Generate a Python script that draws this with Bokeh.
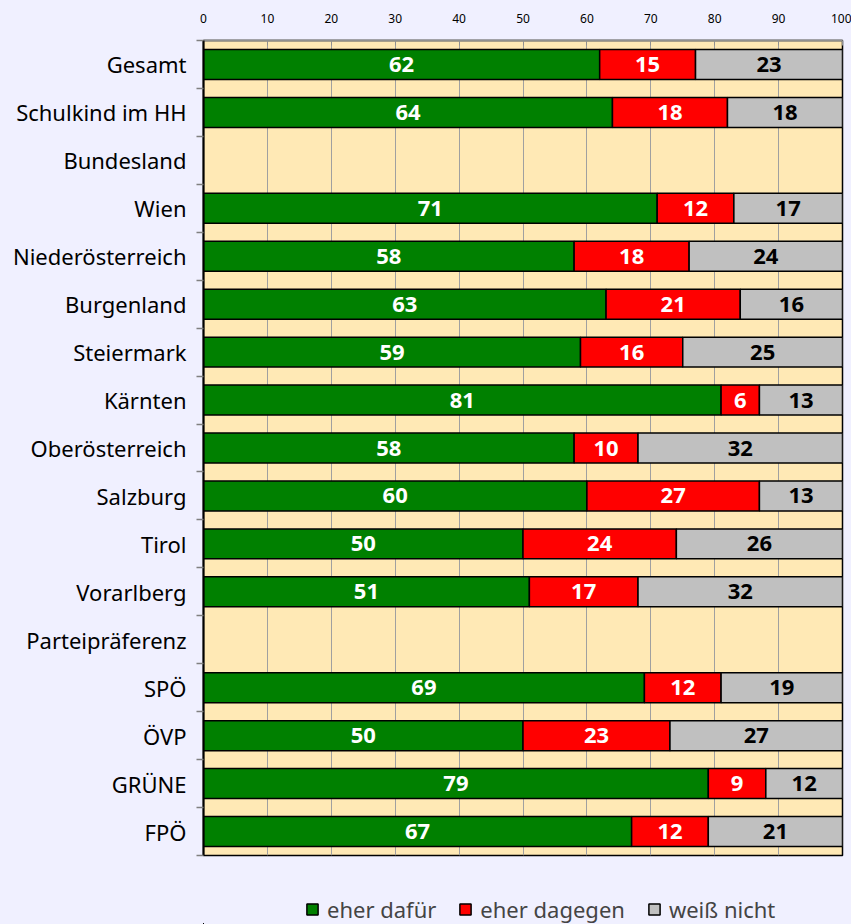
from bokeh.plotting import figure
from bokeh.layouts import column
from bokeh.models import ColumnDataSource, FixedTicker, Range1d, Legend, LegendItem
from bokeh.core.properties import value
from bokeh.embed import file_html
from bokeh.resources import INLINE

categories = ["Gesamt", "Schulkind im HH", "Bundesland", "Wien", "Niederösterreich",
              "Burgenland", "Steiermark", "Kärnten", "Oberösterreich", "Salzburg",
              "Tirol", "Vorarlberg", "Parteipräferenz", "SPÖ", "ÖVP", "GRÜNE", "FPÖ"]
eher_dafuer = [62, 64, None, 71, 58, 63, 59, 81, 58, 60, 50, 51, None, 69, 50, 79, 67]
eher_dagegen = [15, 18, None, 12, 18, 21, 16, 6, 10, 27, 24, 17, None, 12, 23, 9, 12]
weiss_nicht = [23, 18, None, 17, 24, 16, 25, 13, 32, 13, 26, 32, None, 19, 27, 12, 21]
series_names = ["eher dafür", "eher dagegen", "weiß nicht"]
x_ticks = [0, 10, 20, 30, 40, 50, 60, 70, 80, 90, 100]

FONT = "Noto Sans"
BG = "#F0F0FF"
n = len(categories)
rows = [i for i in range(n) if eher_dafuer[i] is not None]

data = dict(y=rows)
acc = [0.0] * len(rows)
for k, ser in enumerate([eher_dafuer, eher_dagegen, weiss_nicht]):
    vals = [ser[i] for i in rows]
    data[f"l{k}"] = list(acc)
    data[f"r{k}"] = [a + v for a, v in zip(acc, vals)]
    data[f"c{k}"] = [a + v / 2 for a, v in zip(acc, vals)]
    data[f"t{k}"] = [str(v) for v in vals]
    acc = data[f"r{k}"]
src = ColumnDataSource(data)

p = figure(frame_width=639, frame_height=815,
           x_range=Range1d(0, 100), y_range=Range1d(n - 0.5, -0.5),
           x_axis_location="above", output_backend="svg", toolbar_location=None,
           min_border_left=203, min_border_right=9, min_border_top=40, min_border_bottom=15,
           background_fill_color="#FFE9B5", border_fill_color=BG)

colors = ["#008000", "#FF0000", "#C0C0C0"]
text_colors = ["white", "white", "black"]
for k in range(3):
    p.hbar(y="y", left=f"l{k}", right=f"r{k}", height=0.625, fill_color=colors[k],
           line_color="black", line_width=1.5, source=src)
    p.text(x=f"c{k}", y="y", text=f"t{k}", source=src, text_align="center",
           text_baseline="middle", text_font=value(FONT), text_font_style="bold",
           text_font_size="22px", text_color=text_colors[k])

# x axis (top)
xa = p.xaxis[0]
xa.ticker = FixedTicker(ticks=x_ticks)
xa.major_tick_in = 5
xa.major_tick_out = 0
xa.minor_tick_line_color = None
xa.axis_line_color = "#909090"
xa.axis_line_width = 2
xa.major_tick_line_color = "#909090"
xa.major_label_text_font = FONT
xa.major_label_text_font_size = "12px"
xa.major_label_text_color = "black"
xa.major_label_standoff = 18

# y axis
ya = p.yaxis[0]
ya.ticker = FixedTicker(ticks=list(range(n)), minor_ticks=[i - 0.5 for i in range(n + 1)])
ya.major_label_overrides = {i: c for i, c in enumerate(categories)}
ya.major_tick_in = 0
ya.major_tick_out = 0
ya.minor_tick_in = 0
ya.minor_tick_out = 7
ya.minor_tick_line_color = "#808080"
ya.minor_tick_line_width = 1.5
ya.axis_line_color = "black"
ya.axis_line_width = 2
ya.major_label_text_font = FONT
ya.major_label_text_font_size = "22px"
ya.major_label_text_color = "black"
ya.major_label_standoff = 10

p.xgrid.ticker = FixedTicker(ticks=x_ticks)
p.xgrid.grid_line_color = "#A0A0A0"
p.ygrid.visible = False
p.outline_line_color = "black"
p.outline_line_width = 1.5

# legend strip below the chart (bars drawn off-view, only used for legend glyphs)
lf = figure(width=851, height=54, x_range=Range1d(1000, 1851), y_range=Range1d(1000, 1054),
            x_axis_location=None, y_axis_location=None, output_backend="svg",
            toolbar_location=None, min_border=0, background_fill_color=BG,
            border_fill_color=BG, outline_line_color=None)
lf.grid.visible = False
leg_renderers = []
for k in range(3):
    r = lf.hbar(y="y", left=f"l{k}", right=f"r{k}", height=0.625, fill_color=colors[k],
                line_color="black", line_width=1.5, source=src)
    leg_renderers.append(r)

legend = Legend(items=[LegendItem(label=series_names[k], renderers=[leg_renderers[k]]) for k in range(3)],
                orientation="horizontal", location=(102, 0),
                background_fill_alpha=0, border_line_alpha=0,
                glyph_width=14, glyph_height=14, label_text_font=FONT,
                label_text_font_size="22px", spacing=22, label_standoff=8,
                padding=0, margin=0, label_height=20)
lf.add_layout(legend, "center")

layout = column(p, lf, spacing=0)
layout.styles = {"background-color": BG}
open("out.html", "w").write(file_html(layout, INLINE))
